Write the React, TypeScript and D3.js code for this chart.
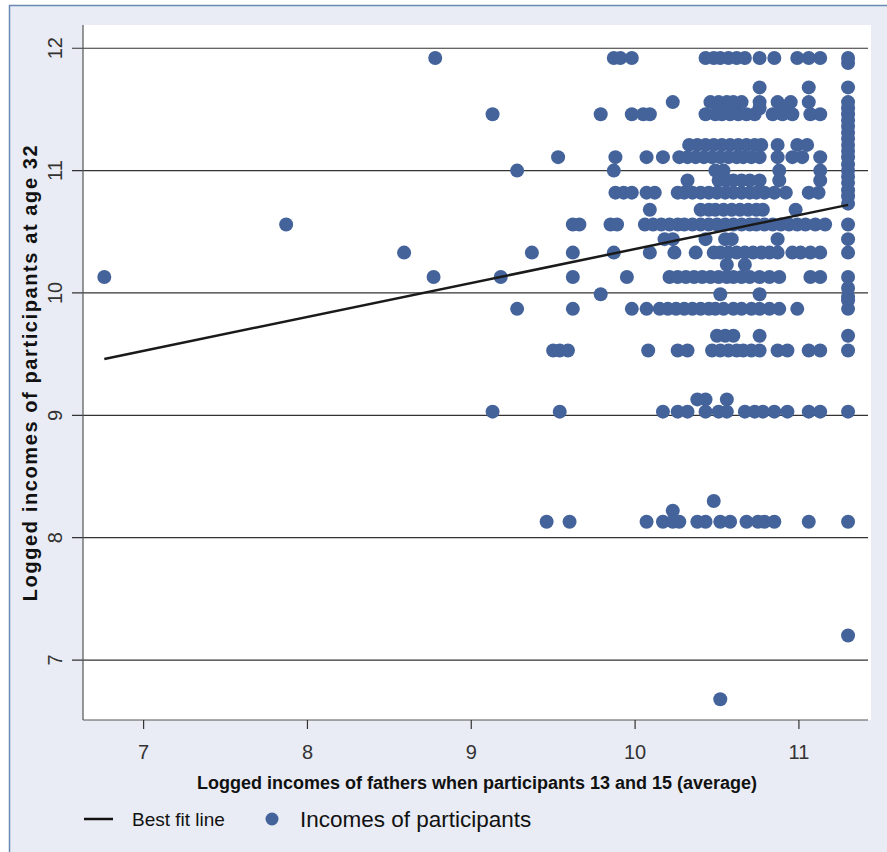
import React from 'react';
import * as d3 from 'd3';

// logged income of the participant at 32 (one value per row of dots)
const childLevels = [
  11.92, 11.68, 11.56, 11.51, 11.46, 11.21, 11.11, 11.0, 10.92, 10.82, 10.68, 10.56,
  10.44, 10.33, 10.23, 10.13, 9.99, 9.87, 9.65, 9.53, 9.13, 9.03, 8.3, 8.22, 8.13, 6.68,
];

// logged income of the father for each dot in the row above
const fatherByLevel = [
  [8.78, 9.87, 9.91, 9.98, 10.43, 10.48, 10.52, 10.57, 10.62, 10.67, 10.76, 10.85, 10.99, 11.06, 11.13],
  [10.76, 11.06],
  [10.23, 10.46, 10.51, 10.56, 10.6, 10.65, 10.76, 10.87, 10.95, 11.06],
  [10.51, 10.6, 10.76, 10.9],
  [9.13, 9.79, 9.98, 10.05, 10.09, 10.43, 10.49, 10.53, 10.58, 10.63, 10.68, 10.73, 10.84, 10.9, 10.96, 11.07, 11.13],
  [10.33, 10.38, 10.43, 10.48, 10.53, 10.58, 10.63, 10.68, 10.73, 10.77, 10.87, 10.99, 11.05],
  [9.53, 9.88, 10.07, 10.17, 10.27, 10.32, 10.37, 10.42, 10.47, 10.52, 10.57, 10.62, 10.66, 10.71, 10.76, 10.87, 10.96, 11.02, 11.13],
  [9.28, 9.87, 10.49, 10.54, 10.88, 11.13],
  [10.32, 10.51, 10.56, 10.6, 10.65, 10.7, 10.76, 10.88, 11.13],
  [9.88, 9.93, 9.98, 10.07, 10.12, 10.26, 10.3, 10.35, 10.4, 10.45, 10.5, 10.55, 10.6, 10.65, 10.7, 10.74, 10.79, 10.85, 10.92, 11.06, 11.12],
  [10.09, 10.4, 10.45, 10.49, 10.54, 10.59, 10.64, 10.69, 10.74, 10.78, 10.98],
  [7.87, 9.62, 9.66, 9.85, 9.89, 10.06, 10.11, 10.16, 10.21, 10.26, 10.3, 10.35, 10.4, 10.45, 10.5, 10.55, 10.6, 10.65, 10.7, 10.74, 10.79, 10.84, 10.89, 10.94, 10.99, 11.04, 11.1, 11.16],
  [10.18, 10.23, 10.43, 10.55, 10.59, 10.87],
  [8.59, 9.37, 9.62, 9.87, 10.09, 10.24, 10.37, 10.48, 10.52, 10.57, 10.62, 10.67, 10.72, 10.77, 10.82, 10.87, 10.96, 11.01, 11.07, 11.13],
  [10.56, 10.67],
  [6.76, 8.77, 9.18, 9.62, 9.95, 10.21, 10.26, 10.31, 10.36, 10.41, 10.46, 10.51, 10.56, 10.6, 10.65, 10.7, 10.76, 10.82, 10.88, 11.07, 11.13],
  [9.79, 10.52, 10.76],
  [9.28, 9.62, 9.98, 10.07, 10.15, 10.2, 10.25, 10.3, 10.35, 10.4, 10.45, 10.49, 10.54, 10.6, 10.65, 10.71, 10.76, 10.82, 10.88, 10.99],
  [10.5, 10.55, 10.6, 10.76],
  [9.5, 9.54, 9.59, 10.08, 10.26, 10.32, 10.47, 10.52, 10.57, 10.62, 10.66, 10.71, 10.76, 10.87, 10.93, 11.06, 11.13],
  [10.38, 10.43, 10.56],
  [9.13, 9.54, 10.17, 10.26, 10.32, 10.43, 10.51, 10.56, 10.67, 10.73, 10.78, 10.85, 10.93, 11.06, 11.13],
  [10.48],
  [10.23],
  [9.46, 9.6, 10.07, 10.17, 10.23, 10.27, 10.38, 10.43, 10.52, 10.58, 10.68, 10.75, 10.79, 10.85, 11.06],
  [10.52],
];

// the top-coded fathers form a column of their own
const topFather = 11.3;
const topFatherChildren = [
  11.92, 11.88, 11.68, 11.56, 11.51, 11.46, 11.41, 11.36, 11.31, 11.26, 11.21, 11.16, 11.11,
  11.05, 11.0, 10.95, 10.9, 10.84, 10.79, 10.73, 10.56, 10.44, 10.33, 10.13, 10.04, 9.97,
  9.94, 9.87, 9.65, 9.53, 9.03, 8.13, 7.2,
];

const fitX = [6.76, 11.3];
const fitY = [9.46, 10.72];

const xTicks = [7, 8, 9, 10, 11];
const yTicks = [7, 8, 9, 10, 11, 12];

const W = 887;
const H = 852;
const left = 83;
const right = 871;
const top = 25;
const bottom = 720;

const dotColor = '#44639b';
const sans = '"Liberation Sans", Arial, sans-serif';

export default function App() {
  const x = d3.scaleLinear().domain([6.63, 11.44]).range([left, right]);
  const y = d3.scaleLinear().domain([6.51, 12.19]).range([bottom, top]);

  const points: { fx: number; cy: number }[] = [];
  childLevels.forEach((c, i) => fatherByLevel[i].forEach(f => points.push({ fx: f, cy: c })));
  topFatherChildren.forEach(c => points.push({ fx: topFather, cy: c }));

  const line = d3
    .line<number>()
    .x((_, i) => x(fitX[i]))
    .y(d => y(d));

  return (
    <svg width={W} height={H} style={{ position: 'absolute', left: 0, top: 0 }}>
      <rect x={0} y={0} width={W} height={H} fill="#fff" />
      <rect x={9.5} y={5.5} width={W} height={H} fill="#e9ecf4" stroke="#6a8ab5" strokeWidth={1.5} />
      <rect x={left} y={top} width={right - left} height={bottom - top} fill="#fff" />

      {/* grid lines with outward ticks */}
      {yTicks.map(t => (
        <g key={t}>
          <line x1={72} x2={868} y1={y(t)} y2={y(t)} stroke="#333" strokeWidth={1.2} />
          <text
            transform={`translate(${62},${y(t)}) rotate(-90)`}
            textAnchor="middle"
            fontFamily={sans}
            fontSize={20}
            fill="#333"
          >
            {t}
          </text>
        </g>
      ))}

      {/* axes */}
      <line x1={left} x2={left} y1={top} y2={bottom} stroke="#555" strokeWidth={1.2} />
      <line x1={left} x2={868} y1={bottom} y2={bottom} stroke="#555" strokeWidth={1.2} />
      {xTicks.map(t => (
        <g key={t}>
          <line x1={x(t)} x2={x(t)} y1={bottom} y2={bottom + 9} stroke="#333" strokeWidth={1.2} />
          <text x={x(t)} y={759} textAnchor="middle" fontFamily={sans} fontSize={20} fill="#333">
            {t}
          </text>
        </g>
      ))}

      {points.map((p, i) => (
        <circle key={i} cx={x(p.fx)} cy={y(p.cy)} r={7} fill={dotColor} />
      ))}

      <path d={line(fitY) || ''} fill="none" stroke="#1a1a1a" strokeWidth={2.5} />

      {/* axis titles */}
      <text
        x={(left + right) / 2}
        y={789}
        textAnchor="middle"
        fontFamily={sans}
        fontWeight="bold"
        fontSize={18}
        fill="#111"
      >
        Logged incomes of fathers when participants 13 and 15 (average)
      </text>
      <text
        transform={`translate(${37},${(top + bottom) / 2}) rotate(-90)`}
        textAnchor="middle"
        fontFamily={sans}
        fontWeight="bold"
        fontSize={20}
        letterSpacing={1.6}
        fill="#111"
      >
        Logged incomes of participants at age 32
      </text>

      {/* legend */}
      <line x1={84} x2={113} y1={819} y2={819} stroke="#111" strokeWidth={2.5} />
      <text x={132} y={826} fontFamily={sans} fontSize={19} fill="#111">
        Best fit line
      </text>
      <circle cx={272} cy={819} r={6.5} fill={dotColor} />
      <text x={300} y={827} fontFamily={sans} fontSize={22.5} fill="#111">
        Incomes of participants
      </text>
    </svg>
  );
}
